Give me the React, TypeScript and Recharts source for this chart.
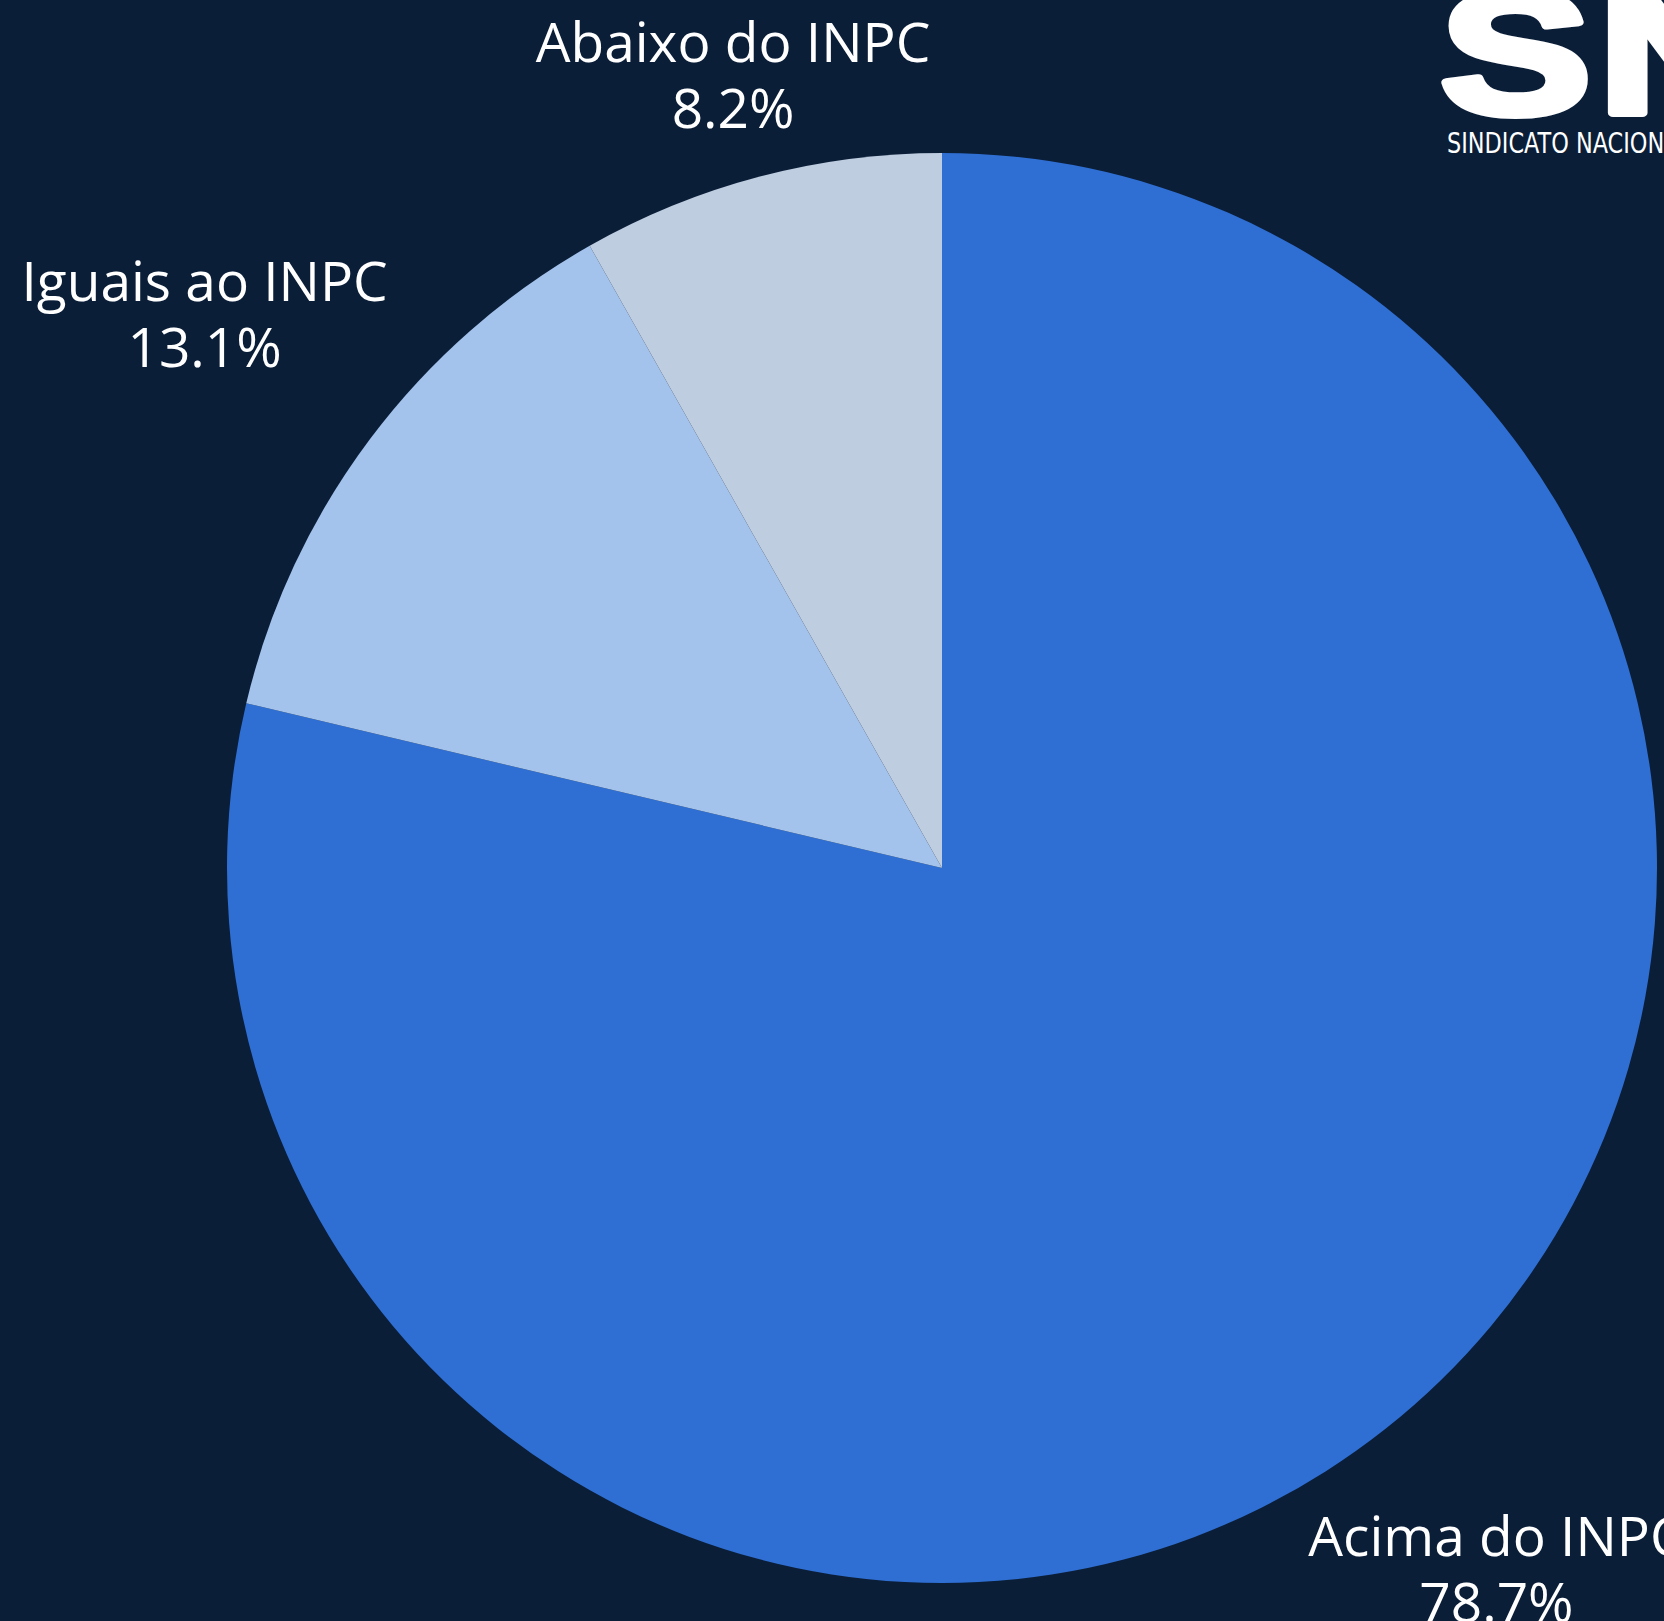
import { PieChart, Pie, Cell } from "recharts";

const categorias = ["Acima do INPC", "Iguais ao INPC", "Abaixo do INPC"];
const percentuais = [78.7, 13.1, 8.2];
const cores = ["#2F6FD3", "#A4C3EC", "#BFCDE0"];

const dados = categorias.map((name, i) => ({ name, value: percentuais[i] }));

const W = 1664;
const H = 1621;
const FUNDO = "#0B1E38";
const FS = 55;
const LH = 66;
const FONTE = "'Open Sans', 'Noto Sans', sans-serif";
const RAD = Math.PI / 180;

let ctx: CanvasRenderingContext2D | null = null;
const medir = (s: string) => {
  if (!ctx && typeof document !== "undefined") {
    ctx = document.createElement("canvas").getContext("2d");
  }
  if (!ctx) return s.length * 26;
  ctx.font = `${FS}px ${FONTE}`;
  return ctx.measureText(s).width;
};

const renderLabel = (props: any) => {
  const { cx, cy, midAngle, outerRadius, name, value } = props;
  const cos = Math.cos(-midAngle * RAD);
  const sin = Math.sin(-midAngle * RAD);
  const pct = `${Number(value).toFixed(1)}%`;
  const w = Math.max(medir(String(name)), medir(pct));
  const h = LH + FS * 0.72;
  // push the label out until its box clears the rim
  const ext = 1.23 * Math.abs(cos) * (w / 2) + 0.85 * Math.abs(sin) * (h / 2);
  const r = outerRadius + ext;
  const x = cx + r * cos;
  const yc = cy + r * sin;
  const b1 = yc - (LH - FS * 0.72) / 2;
  return (
    <text x={x} y={b1} fill="#ffffff" textAnchor="middle" fontSize={FS} fontFamily={FONTE}>
      <tspan x={x} y={b1}>{name}</tspan>
      <tspan x={x} y={b1 + LH}>{pct}</tspan>
    </text>
  );
};

export default function App() {
  return (
    <div style={{ position: "absolute", left: 0, top: 0, width: W, height: H, background: FUNDO, overflow: "hidden" }}>
      <PieChart width={W} height={H} margin={{ top: 0, right: 0, bottom: 0, left: 0 }}>
        <Pie
          data={dados}
          dataKey="value"
          nameKey="name"
          cx={942}
          cy={868}
          outerRadius={715}
          startAngle={90}
          endAngle={-270}
          stroke="none"
          label={renderLabel}
          labelLine={false}
          isAnimationActive={false}
        >
          {dados.map((d, i) => (
            <Cell key={d.name} fill={cores[i]} />
          ))}
        </Pie>
      </PieChart>
      <svg width={W} height={H} style={{ position: "absolute", left: 0, top: 0, pointerEvents: "none" }}>
        <g fill="#ffffff" stroke="#ffffff" strokeWidth={8} strokeLinejoin="round" fontSize={172} fontWeight={700} fontFamily="'Liberation Sans', Arial, sans-serif">
          <text transform="translate(1440,113) scale(1.32,1)">S</text>
          <text transform="translate(1598,113) scale(1.32,1)">N</text>
        </g>
        <text
          x={1447}
          y={153}
          fill="#ffffff"
          fontSize={29}
          textLength={245}
          lengthAdjust="spacingAndGlyphs"
          fontFamily="'Liberation Sans Narrow', 'DejaVu Sans Condensed', sans-serif"
        >
          SINDICATO NACIONAL
        </text>
      </svg>
    </div>
  );
}
